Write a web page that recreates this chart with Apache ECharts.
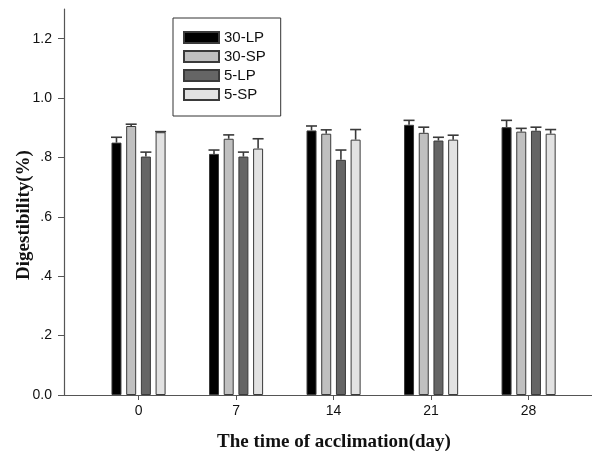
<!DOCTYPE html>
<html>
<head>
<meta charset="utf-8">
<title>Digestibility during acclimation</title>
<script src="https://cdn.jsdelivr.net/npm/echarts@6/dist/echarts.min.js"></script>
<style>
  html, body { margin: 0; padding: 0; background: #fff; }
  #chart { width: 592px; height: 455px; }
</style>
</head>
<body>
<div id="chart"></div>
<script>
// Acclimation days on the x axis
const days = [0, 7, 14, 21, 28];
const seriesNames = ['30-LP', '30-SP', '5-LP', '5-SP'];

// Mean digestibility per treatment
const lp30 = [0.850, 0.812, 0.891, 0.910, 0.902];
const sp30 = [0.906, 0.863, 0.880, 0.883, 0.887];
const lp5  = [0.803, 0.803, 0.792, 0.857, 0.890];
const sp5  = [0.885, 0.830, 0.860, 0.860, 0.880];

// Upper error (SE) per treatment
const lp30Err = [0.018, 0.013, 0.015, 0.015, 0.023];
const sp30Err = [0.006, 0.013, 0.013, 0.019, 0.011];
const lp5Err  = [0.015, 0.015, 0.033, 0.011, 0.012];
const sp5Err  = [0.002, 0.033, 0.034, 0.015, 0.014];

const yTicks = [0, 0.2, 0.4, 0.6, 0.8, 1.0, 1.2];

const means = [lp30, sp30, lp5, sp5];
const errs = [lp30Err, sp30Err, lp5Err, sp5Err];
const fills = ['#000000', '#c0c0c0', '#656565', '#e2e2e2'];

const BAR_W = 10;
const BAR_GAP = 0.47;          // gap between neighbouring bars, as a share of bar width
const PITCH = BAR_W * (1 + BAR_GAP);
const INK = '#3a3a3a';

function fmtY(v) {
  if (v === 0) return '0.0';
  if (v >= 1) return v.toFixed(1);
  return v.toFixed(1).replace(/^0/, '');
}

const barSeries = means.map((vals, i) => ({
  name: seriesNames[i],
  type: 'bar',
  barWidth: BAR_W,
  barGap: (BAR_GAP * 100) + '%',
  itemStyle: { color: fills[i], borderColor: INK, borderWidth: 1 },
  data: days.map((d, k) => [d, vals[k]]),
  z: 2
}));

const errSeries = means.map((vals, i) => ({
  name: seriesNames[i] + ' err',
  type: 'custom',
  encode: { x: 0, y: 1 },
  data: days.map((d, k) => [d, vals[k], errs[i][k]]),
  z: 3,
  renderItem: function (params, api) {
    const x = api.value(0), m = api.value(1), e = api.value(2);
    const base = api.coord([x, m]);
    const top = api.coord([x, m + e]);
    const cx = base[0] + (i - 1.5) * PITCH;
    const half = BAR_W / 2 + 0.5;
    const st = { stroke: INK, lineWidth: 1.6 };
    return {
      type: 'group',
      children: [
        { type: 'line', shape: { x1: cx, y1: base[1], x2: cx, y2: top[1] }, style: st },
        { type: 'line', shape: { x1: cx - half, y1: top[1], x2: cx + half, y2: top[1] }, style: st }
      ]
    };
  }
}));

const chart = echarts.init(document.getElementById('chart'), null, { renderer: 'canvas' });
chart.setOption({
  animation: false,
  backgroundColor: '#ffffff',
  grid: { left: 64, right: 0, top: 9, bottom: 60, containLabel: false },
  legend: {
    orient: 'vertical',
    left: 173,
    top: 18,
    data: seriesNames,
    icon: 'rect',
    itemWidth: 35,
    itemHeight: 11,
    itemGap: 4,
    padding: [12, 15, 14, 10],
    borderColor: '#333333',
    borderWidth: 1,
    textStyle: { fontFamily: 'Liberation Sans, Arial, sans-serif', fontSize: 15, color: '#111' }
  },
  xAxis: {
    type: 'value',
    min: -5.35,
    max: 32.55,
    splitLine: { show: false },
    axisLine: { onZero: false, lineStyle: { color: '#555', width: 1.2 } },
    axisTick: { customValues: days, length: 5, lineStyle: { color: '#555' } },
    axisLabel: {
      customValues: days,
      margin: 9,
      fontFamily: 'Liberation Sans, Arial, sans-serif',
      fontSize: 14,
      color: '#111'
    }
  },
  yAxis: {
    type: 'value',
    min: 0,
    max: 1.3,
    splitLine: { show: false },
    axisLine: { show: true, onZero: false, lineStyle: { color: '#555', width: 1.2 } },
    axisTick: { show: true, customValues: yTicks, length: 6, lineStyle: { color: '#555' } },
    axisLabel: {
      customValues: yTicks,
      margin: 12,
      formatter: fmtY,
      fontFamily: 'Liberation Sans, Arial, sans-serif',
      fontSize: 14,
      color: '#111'
    }
  },
  graphic: [
    {
      type: 'text',
      x: 334, y: 442,
      style: {
        text: 'The time of acclimation(day)',
        font: 'bold 19px "Liberation Serif", "Times New Roman", serif',
        fill: '#111',
        textAlign: 'center',
        textVerticalAlign: 'middle'
      }
    },
    {
      type: 'text',
      x: 24, y: 215,
      rotation: Math.PI / 2,
      style: {
        text: 'Digestibility(%)',
        font: 'bold 19px "Liberation Serif", "Times New Roman", serif',
        fill: '#111',
        textAlign: 'center',
        textVerticalAlign: 'middle'
      }
    }
  ],
  series: barSeries.concat(errSeries)
});
</script>
</body>
</html>
